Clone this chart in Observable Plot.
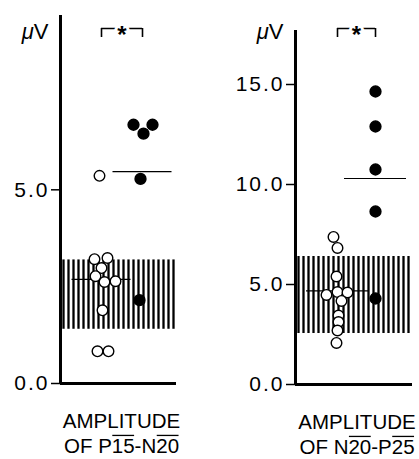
<!DOCTYPE html>
<html><head><meta charset="utf-8">
<script src="https://cdn.jsdelivr.net/npm/d3@7"></script>
<script src="https://cdn.jsdelivr.net/npm/@observablehq/plot@0.6"></script>
<style>
body{margin:0;background:#fff;}
#wrap{position:relative;width:419px;height:459px;background:#fff;}
#p1,#p2{position:absolute;top:0;}
#p1{left:0;} #p2{left:235px;}
svg text{font-family:"Liberation Sans",Arial,sans-serif;}
g[aria-label="y-axis tick label"] text{letter-spacing:2px;}
</style></head><body><div id="wrap"><div id="p1"></div><div id="p2"></div></div>
<script>
// ---- Panel 1: amplitude of P15-N20 ----
const p1Ticks = [0, 5];
const p1OpenValues = [5.36, 3.21, 3.24, 2.98, 2.77, 2.62, 2.64, 1.89, 0.83, 0.83];
const p1OpenSlots  = [-0.2, -0.7, 0.6, 0.0, -0.6, 0.3, 1.4, 0.1, -0.4, 0.7];
const p1FilledValues = [6.68, 6.68, 6.45, 5.28, 2.15];
const p1FilledSlots  = [-0.9, 1.0, 0.1, -0.2, -0.3];
const p1Means = [2.69, 5.47];      // open group, filled group
const p1Band = [1.40, 3.19];       // normal range (hatched)
const p1Label = ["AMPLITUDE", "OF P15-N20"];
const p1Overlines = [[4, 6], [8, 10]];   // character ranges carrying an overline (negative peaks)

// ---- Panel 2: amplitude of N20-P25 ----
const p2Ticks = [0, 5, 10, 15];
const p2OpenValues = [7.38, 6.83, 5.4, 4.48, 4.62, 4.6, 4.18, 3.45, 3.12, 2.7, 2.08];
const p2OpenSlots  = [-0.4, 0.0, -0.1, -1.1, 0.0, 1.0, 0.4, 0.1, 0.1, 0.0, -0.1];
const p2FilledValues = [14.65, 12.9, 10.75, 8.65, 4.3];
const p2FilledSlots  = [0, 0, 0, 0, 0];
const p2Means = [4.68, 10.3];
const p2Band = [2.55, 6.4];
const p2Label = ["AMPLITUDE", "OF N20-P25"];
const p2Overlines = [[4, 6], [8, 10]];

const unitLabel = "\u03bcV";
const sigMark = "*";

function panel(cfg) {
  const open = cfg.openValues.map((v, i) => ({v, x: cfg.openCenter + cfg.openSlots[i]}));
  const filled = cfg.filledValues.map((v, i) => ({v, x: cfg.filledCenter + cfg.filledSlots[i]}));
  const means = [
    {v: cfg.means[0], x1: cfg.openCenter - cfg.meanHalf, x2: cfg.openCenter + cfg.meanHalf},
    {v: cfg.means[1], x1: cfg.filledCenter - cfg.meanHalf, x2: cfg.filledCenter + cfg.meanHalf}
  ];
  const hatch = d3.range(0.3, cfg.xMax, 0.5);
  const ymax = cfg.yMax;
  const pxPerUnit = (459 - cfg.marginTop - cfg.marginBottom) / ymax;
  const tickDrop = 9 / pxPerUnit;
  const bdy = 28 - cfg.marginTop;
  return Plot.plot({
    width: cfg.width, height: 459,
    marginLeft: 60, marginRight: cfg.marginRight, marginTop: cfg.marginTop, marginBottom: cfg.marginBottom,
    x: {domain: [0, cfg.xMax], axis: null},
    y: {domain: [0, ymax], axis: null},
    style: {background: "white", overflow: "visible", fontFamily: "Liberation Sans, Arial, sans-serif"},
    marks: [
      Plot.ruleX(hatch, {x: d => d, y1: cfg.band[0], y2: cfg.band[1], strokeWidth: 2.3, stroke: "black"}),
      Plot.ruleY(means, {y: "v", x1: "x1", x2: "x2", strokeWidth: 1.2, stroke: "black"}),
      Plot.axisY(cfg.ticks, {tickSize: 9, tickPadding: 2, tickFormat: d => d.toFixed(1), fontSize: 21, strokeWidth: 1.5, label: null}),
      Plot.ruleX([0], {strokeWidth: 3}),
      Plot.ruleY([0], {strokeWidth: 3}),
      Plot.dot(open, {x: "x", y: "v", r: 5.3, fill: "white", stroke: "black", strokeWidth: 1.4}),
      Plot.dot(filled, {x: "x", y: "v", r: 5.4, fill: "black", stroke: "black"}),
      Plot.text([unitLabel], {frameAnchor: "top-left", dx: -12, dy: 38 - cfg.marginTop, textAnchor: "end", lineAnchor: "bottom", fontSize: 22}),
      Plot.ruleY([ymax], {x1: cfg.openCenter, x2: cfg.filledCenter, dy: bdy, strokeWidth: 1.6}),
      Plot.ruleX([cfg.openCenter, cfg.filledCenter], {y1: ymax, y2: ymax - tickDrop, dy: bdy, strokeWidth: 1.6}),
      Plot.text([sigMark], {x: () => (cfg.openCenter + cfg.filledCenter) / 2, y: () => ymax, dy: 35 - cfg.marginTop, fontSize: 24, fontWeight: "bold", stroke: "white", strokeWidth: 6, fill: "black", lineAnchor: "middle"}),
      Plot.text([cfg.label[0]], {frameAnchor: "bottom", dx: 3, dy: 38, fontSize: 20.5, lineAnchor: "middle"}),
      Plot.text([cfg.label[1]], {frameAnchor: "bottom", dx: 3, dy: 63, fontSize: 20.5, lineAnchor: "middle"})
    ]
  });
}

const ns = "http://www.w3.org/2000/svg";
function decorate(svg, label2, overlines) {
  svg.querySelectorAll("text").forEach(t => {
    if (t.textContent === unitLabel) {
      t.textContent = "";
      const a = document.createElementNS(ns, "tspan");
      a.setAttribute("font-style", "italic");
      a.textContent = "\u03bc";
      const b = document.createElementNS(ns, "tspan");
      b.textContent = "V";
      t.append(a, b);
    }
    if (t.textContent === label2) {
      const g = t.parentNode;
      const fs = 20.5;
      overlines.forEach(([s, e]) => {
        const p0 = t.getStartPositionOfChar(s);
        const p1 = t.getEndPositionOfChar(e - 1);
        const m = t.getCTM(), gm = g.getCTM();
        const line = document.createElementNS(ns, "line");
        // positions are in the text's user space; text and group share it apart from the text's own transform
        const tr = t.transform.baseVal.consolidate();
        let x0 = p0.x, x1 = p1.x, y = p0.y - fs * 0.86;
        if (tr) { const mm = tr.matrix; x0 += mm.e; x1 += mm.e; y += mm.f; }
        line.setAttribute("x1", x0 + 0.5); line.setAttribute("x2", x1 - 0.5);
        line.setAttribute("y1", y); line.setAttribute("y2", y);
        line.setAttribute("stroke", "black"); line.setAttribute("stroke-width", "1.3");
        g.appendChild(line);
      });
    }
  });
}

const s1 = panel({
  width: 200, marginRight: 24, marginTop: 15, marginBottom: 76, xMax: 11.6, yMax: 9.5,
  ticks: p1Ticks, openValues: p1OpenValues, openSlots: p1OpenSlots,
  filledValues: p1FilledValues, filledSlots: p1FilledSlots,
  openCenter: 4.1, filledCenter: 8.2, meanHalf: 2.95, means: p1Means, band: p1Band, label: p1Label
});
const s2 = panel({
  width: 184, marginRight: 7, marginTop: 30, marginBottom: 75, xMax: 11.7, yMax: 17.7,
  ticks: p2Ticks, openValues: p2OpenValues, openSlots: p2OpenSlots,
  filledValues: p2FilledValues, filledSlots: p2FilledSlots,
  openCenter: 4.2, filledCenter: 8.0, meanHalf: 3.1, means: p2Means, band: p2Band, label: p2Label
});
document.getElementById("p1").append(s1);
document.getElementById("p2").append(s2);
decorate(s1, p1Label[1], p1Overlines);
decorate(s2, p2Label[1], p2Overlines);
</script></body></html>
